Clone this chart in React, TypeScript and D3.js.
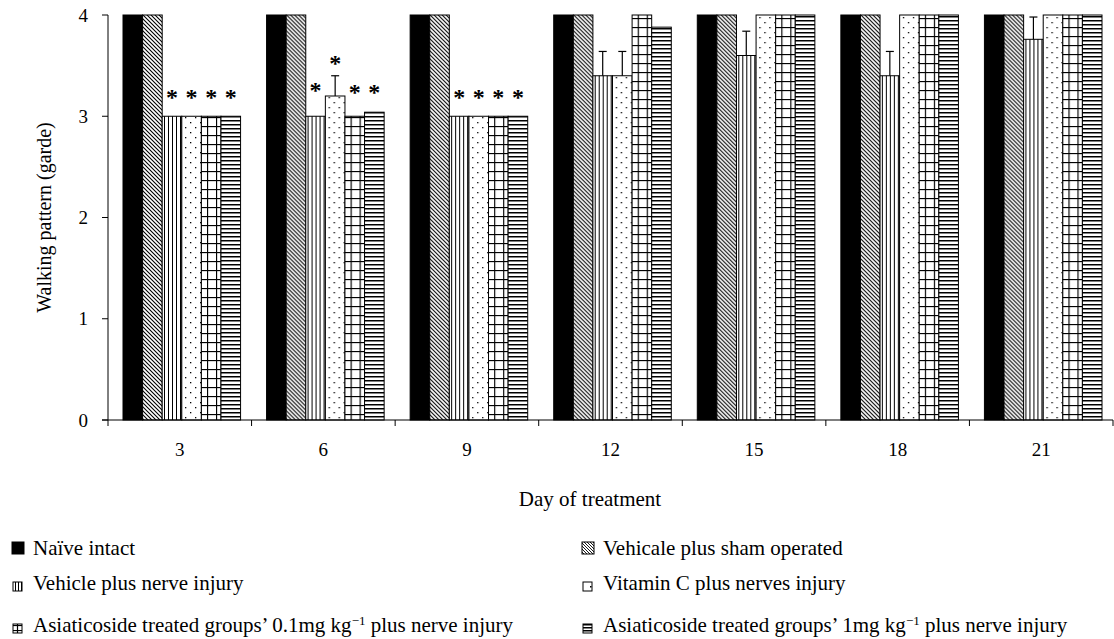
import React from "react";
import * as d3 from "d3";

const days = ["3", "6", "9", "12", "15", "18", "21"];
const seriesNames = [
  "Naïve intact",
  "Vehicale plus sham operated",
  "Vehicle plus nerve injury",
  "Vitamin C plus nerves injury",
  "Asiaticoside treated groups’ 0.1mg kg",
  "Asiaticoside treated groups’ 1mg kg",
];
const naive = [4, 4, 4, 4, 4, 4, 4];
const sham = [4, 4, 4, 4, 4, 4, 4];
const vehicleInjury = [3, 3, 3, 3.4, 3.6, 3.4, 3.76];
const vitaminC = [3, 3.2, 3, 3.4, 4, 4, 4];
const asia01 = [3, 3, 3, 4, 4, 4, 4];
const asia1 = [3, 3.04, 3, 3.88, 4, 4, 4];
const naiveErr = [0, 0, 0, 0, 0, 0, 0];
const shamErr = [0, 0, 0, 0, 0, 0, 0];
const vehicleInjuryErr = [0, 0, 0, 0.24, 0.24, 0.24, 0.22];
const vitaminCErr = [0, 0.2, 0, 0.24, 0, 0, 0];
const asia01Err = [0, 0, 0, 0, 0, 0, 0];
const asia1Err = [0, 0, 0, 0, 0, 0, 0];
// level (in grade units) at which a significance asterisk is drawn; 0 = none
const naiveSig = [0, 0, 0, 0, 0, 0, 0];
const shamSig = [0, 0, 0, 0, 0, 0, 0];
const vehicleInjurySig = [3.23, 3.3, 3.23, 0, 0, 0, 0];
const vitaminCSig = [3.23, 3.57, 3.23, 0, 0, 0, 0];
const asia01Sig = [3.23, 3.28, 3.23, 0, 0, 0, 0];
const asia1Sig = [3.23, 3.28, 3.23, 0, 0, 0, 0];
const yTicks = [0, 1, 2, 3, 4];

const values = [naive, sham, vehicleInjury, vitaminC, asia01, asia1];
const errs = [naiveErr, shamErr, vehicleInjuryErr, vitaminCErr, asia01Err, asia1Err];
const sigs = [naiveSig, shamSig, vehicleInjurySig, vitaminCSig, asia01Sig, asia1Sig];
const fills = ["#000", "url(#pDiag)", "url(#pVert)", "url(#pDots)", "url(#pGrid)", "url(#pHoriz)"];
const legendFills = ["#000", "url(#lDiag)", "url(#lVert)", "url(#lDots)", "url(#lGrid)", "url(#lHoriz)"];

const W = 1114;
const H = 639;
const left = 108;
const right = 1113;
const top = 15;
const bottom = 420;
const font = "'Liberation Serif', 'Times New Roman', serif";

export default function App() {
  const x0 = d3.scaleBand<string>().domain(days).range([left, right]).paddingInner(0).paddingOuter(0);
  const groupPad = 15;
  const x1 = d3
    .scaleBand<number>()
    .domain(d3.range(6))
    .range([groupPad, x0.bandwidth() - groupPad + 4])
    .padding(0);
  const y = d3.scaleLinear().domain([0, 4]).range([bottom, top]);

  const boundaries = days.map((d) => x0(d)!).concat([right]);

  const legendItems = [
    { i: 0, x: 12, y: 548, big: true },
    { i: 1, x: 582, y: 548, big: true },
    { i: 2, x: 12, y: 583, big: false },
    { i: 3, x: 582, y: 583, big: false },
    { i: 4, x: 12, y: 625, big: false },
    { i: 5, x: 582, y: 625, big: false },
  ];

  return (
    <svg width={W} height={H} style={{ display: "block", position: "absolute", left: 0, top: 0 }}>
      <defs>
        <pattern id="pDiag" patternUnits="userSpaceOnUse" width="4" height="4">
          <rect width="4" height="4" fill="#fff" />
          <path d="M-1,-1 L5,5 M-1,3 L1,5 M3,-1 L5,1" stroke="#000" strokeWidth="1.1" />
        </pattern>
        <pattern id="pVert" patternUnits="userSpaceOnUse" width="4" height="4">
          <rect width="4" height="4" fill="#fff" />
          <line x1="0.5" y1="0" x2="0.5" y2="4" stroke="#000" strokeWidth="1" />
        </pattern>
        <pattern id="pDots" patternUnits="userSpaceOnUse" width="10" height="10">
          <rect width="10" height="10" fill="#fff" />
          <rect x="2" y="2" width="1.3" height="1.3" fill="#000" />
          <rect x="7" y="7" width="1.3" height="1.3" fill="#000" />
        </pattern>
        <pattern id="pGrid" patternUnits="userSpaceOnUse" width="9" height="9">
          <rect width="9" height="9" fill="#fff" />
          <line x1="0.5" y1="0" x2="0.5" y2="9" stroke="#000" strokeWidth="1.3" />
          <line x1="0" y1="0.5" x2="9" y2="0.5" stroke="#000" strokeWidth="1.3" />
        </pattern>
        <pattern id="pHoriz" patternUnits="userSpaceOnUse" width="4" height="4">
          <rect width="4" height="4" fill="#fff" />
          <line x1="0" y1="0.75" x2="4" y2="0.75" stroke="#000" strokeWidth="1.5" />
        </pattern>
        <pattern id="lDiag" patternUnits="userSpaceOnUse" width="3" height="3">
          <rect width="3" height="3" fill="#fff" />
          <path d="M-1,-1 L4,4 M-1,2 L1,4 M2,-1 L4,1" stroke="#000" strokeWidth="0.9" />
        </pattern>
        <pattern id="lVert" patternUnits="userSpaceOnUse" width="3" height="3">
          <rect width="3" height="3" fill="#fff" />
          <line x1="0.5" y1="0" x2="0.5" y2="3" stroke="#000" strokeWidth="1" />
        </pattern>
        <pattern id="lDots" patternUnits="userSpaceOnUse" width="12" height="12" x="586" y="581">
          <rect width="12" height="12" fill="#fff" />
          <rect x="4" y="5" width="1.5" height="1.5" fill="#000" />
        </pattern>
        <pattern id="lGrid" patternUnits="userSpaceOnUse" width="12" height="5" x="13" y="620">
          <rect width="12" height="5" fill="#fff" />
          <line x1="0" y1="0.5" x2="12" y2="0.5" stroke="#000" strokeWidth="1.2" />
          <line x1="4.5" y1="0" x2="4.5" y2="5" stroke="#000" strokeWidth="1.2" />
        </pattern>
        <pattern id="lHoriz" patternUnits="userSpaceOnUse" width="3" height="3">
          <rect width="3" height="3" fill="#fff" />
          <line x1="0" y1="0.75" x2="3" y2="0.75" stroke="#000" strokeWidth="1.5" />
        </pattern>
      </defs>
      <rect width={W} height={H} fill="#fff" />

      {/* bars */}
      {days.map((d, di) => (
        <g key={d} transform={`translate(${x0(d)},0)`}>
          {values.map((vals, si) => {
            const bx = x1(si)!;
            const bw = x1.bandwidth();
            const v = vals[di];
            const e = errs[si][di];
            const s = sigs[si][di];
            return (
              <g key={si}>
                <rect
                  x={bx}
                  y={y(v)}
                  width={bw}
                  height={y(0) - y(v)}
                  fill={fills[si]}
                  stroke="#000"
                  strokeWidth={1}
                />
                {e > 0 && (
                  <g stroke="#000" strokeWidth={1.2}>
                    <line x1={bx + bw / 2} x2={bx + bw / 2} y1={y(v)} y2={y(v + e)} />
                    <line x1={bx + bw / 2 - 4} x2={bx + bw / 2 + 4} y1={y(v + e)} y2={y(v + e)} />
                  </g>
                )}
                {s > 0 && (
                  <text
                    x={bx + bw / 2}
                    y={y(s) + 12}
                    textAnchor="middle"
                    fontFamily={font}
                    fontWeight="bold"
                    fontSize={24}
                  >
                    *
                  </text>
                )}
              </g>
            );
          })}
        </g>
      ))}

      {/* axes */}
      <line x1={left} x2={left} y1={top} y2={bottom} stroke="#000" strokeWidth={1} />
      <line x1={left - 6} x2={right} y1={bottom} y2={bottom} stroke="#000" strokeWidth={1} />
      {yTicks.map((t) => (
        <g key={t}>
          <line x1={left - 6} x2={left} y1={y(t)} y2={y(t)} stroke="#000" />
          <text
            x={88}
            y={y(t)}
            dy="0.35em"
            textAnchor="end"
            fontFamily={font}
            fontSize={19}
          >
            {t}
          </text>
        </g>
      ))}
      {boundaries.map((b, i) => (
        <line key={i} x1={b} x2={b} y1={bottom} y2={bottom + 6} stroke="#000" />
      ))}
      {days.map((d) => (
        <text
          key={d}
          x={x0(d)! + x0.bandwidth() / 2}
          y={449}
          dy="0.35em"
          textAnchor="middle"
          fontFamily={font}
          fontSize={19}
        >
          {d}
        </text>
      ))}
      <text
        transform={`translate(44,${(top + bottom) / 2}) rotate(-90)`}
        textAnchor="middle"
        dy="0.35em"
        fontFamily={font}
        fontSize={20}
      >
        Walking pattern (garde)
      </text>
      <text x={590} y={499} dy="0.35em" textAnchor="middle" fontFamily={font} fontSize={21}>
        Day of treatment
      </text>

      {/* legend */}
      {legendItems.map(({ i, x, y: ly, big }) => (
        <g key={i}>
          <rect
            x={big ? x : x + 1}
            y={big ? ly - 6 : ly - 1}
            width={big ? 12 : 9}
            height={big ? 12 : 9}
            fill={legendFills[i]}
            stroke="#000"
            strokeWidth={1}
          />
          <text x={x + 21} y={ly} dy="0.35em" fontFamily={font} fontSize={21}>
            {seriesNames[i]}
            {i >= 4 && (
              <>
                <tspan dy={-7} fontSize={13}>
                  −1
                </tspan>
                <tspan dy={7}> plus nerve injury</tspan>
              </>
            )}
          </text>
        </g>
      ))}
    </svg>
  );
}
